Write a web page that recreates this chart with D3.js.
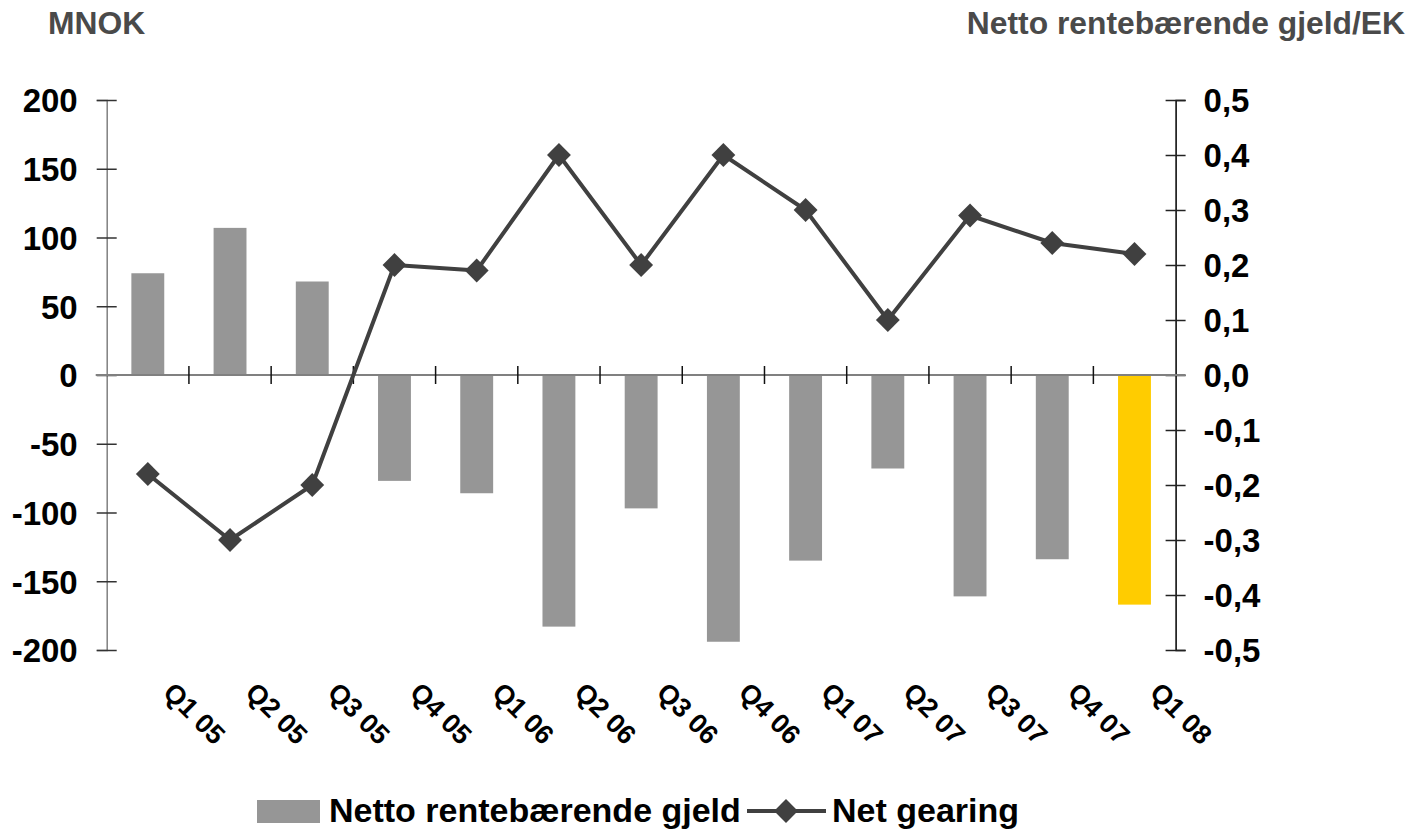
<!DOCTYPE html>
<html>
<head>
<meta charset="utf-8">
<script src="https://cdn.jsdelivr.net/npm/d3@7"></script>
<style>
  html, body { margin: 0; padding: 0; background: #fff; }
  svg { display: block; font-family: "Liberation Sans", Arial, sans-serif; }
</style>
</head>
<body>
<svg id="chart" width="1418" height="831"></svg>
<script>
// ---- data ----
const categories = ["Q1 05","Q2 05","Q3 05","Q4 05","Q1 06","Q2 06","Q3 06","Q4 06","Q1 07","Q2 07","Q3 07","Q4 07","Q1 08"];
const debtValues = [74, 107, 68, -77, -86, -183, -97, -194, -135, -68, -161, -134, -167];
const gearingValues = [-0.18, -0.30, -0.20, 0.20, 0.19, 0.40, 0.20, 0.40, 0.30, 0.10, 0.29, 0.24, 0.22];
const leftTicks = [200, 150, 100, 50, 0, -50, -100, -150, -200];
const rightTicks = [0.5, 0.4, 0.3, 0.2, 0.1, 0.0, -0.1, -0.2, -0.3, -0.4, -0.5];
const rightTickLabels = ["0,5","0,4","0,3","0,2","0,1","0,0","-0,1","-0,2","-0,3","-0,4","-0,5"];
const leftTitle = "MNOK";
const rightTitle = "Netto rentebærende gjeld/EK";
const seriesNames = ["Netto rentebærende gjeld", "Net gearing"];

// ---- styles ----
const barColor = "#969696";
const highlightColor = "#FFCC00";
const lineColor = "#404040";

const svg = d3.select("#chart");
const x0 = 106.7, x1 = 1175.6, yTop = 100, yBot = 650;

const x = d3.scaleBand().domain(categories).range([x0, x1]).paddingInner(0.6).paddingOuter(0.3);
const xPos = d3.scaleBand().domain(categories).range([x0, x1]).padding(0);
const yL = d3.scaleLinear().domain([-200, 200]).range([yBot, yTop]);
const yR = d3.scaleLinear().domain([-0.5, 0.5]).range([yBot, yTop]);

// bars
svg.append("g").selectAll("rect").data(debtValues).join("rect")
  .attr("x", (d, i) => x(categories[i]))
  .attr("width", x.bandwidth())
  .attr("y", d => yL(Math.max(0, d)))
  .attr("height", d => Math.abs(yL(d) - yL(0)))
  .attr("fill", (d, i) => i === categories.length - 1 ? highlightColor : barColor);

// left axis
const gL = svg.append("g").attr("transform", `translate(${x0},0)`)
  .call(d3.axisLeft(yL).tickValues(leftTicks).tickSize(10).tickFormat(d => d3.format("d")(d).replace("−", "-")));
gL.select(".domain").attr("stroke", "#808080").attr("stroke-width", 1.5);
gL.selectAll(".tick line").attr("x1", 10).attr("x2", -10).attr("stroke", "#333").attr("stroke-width", 1.5);
gL.selectAll(".tick text").attr("x", -29).attr("dy", "0.36em")
  .attr("font-size", 33).attr("font-weight", "bold").attr("fill", "#000")
  .attr("font-family", "'Liberation Sans', Arial, sans-serif");

// right axis
const gR = svg.append("g").attr("transform", `translate(${x1},0)`)
  .call(d3.axisRight(yR).tickValues(rightTicks).tickSize(10).tickFormat((d, i) => rightTickLabels[i]));
gR.select(".domain").attr("stroke", "#000").attr("stroke-width", 1.5);
gR.selectAll(".tick line").attr("x1", -10).attr("x2", 10).attr("stroke", "#222").attr("stroke-width", 1.5);
gR.selectAll(".tick text").attr("x", 28).attr("dy", "0.36em")
  .attr("font-size", 33).attr("font-weight", "bold").attr("fill", "#000")
  .attr("font-family", "'Liberation Sans', Arial, sans-serif");

// zero / category axis
const z = yL(0);
svg.append("line").attr("x1", x0 - 11).attr("x2", x1 + 10).attr("y1", z).attr("y2", z)
  .attr("stroke", "#808080").attr("stroke-width", 2);
const catBounds = d3.range(1, categories.length).map(i => xPos(categories[i]));
svg.append("g").selectAll("line").data(catBounds).join("line")
  .attr("x1", d => d).attr("x2", d => d).attr("y1", z - 9).attr("y2", z + 9)
  .attr("stroke", "#111").attr("stroke-width", 1.5);

// category labels
svg.append("g").selectAll("text").data(categories).join("text")
  .attr("transform", d => `translate(${xPos(d) + xPos.bandwidth() / 2 + 14},694) rotate(45)`)
  .attr("font-size", 27).attr("font-weight", "bold").attr("fill", "#000")
  .text(d => d);

// line
const lineGen = d3.line()
  .x((d, i) => xPos(categories[i]) + xPos.bandwidth() / 2)
  .y(d => yR(d));
svg.append("path").datum(gearingValues).attr("d", lineGen)
  .attr("fill", "none").attr("stroke", lineColor).attr("stroke-width", 4).attr("stroke-linejoin", "round");
svg.append("g").selectAll("path").data(gearingValues).join("path")
  .attr("d", d3.symbol().type(d3.symbolSquare).size(285))
  .attr("transform", (d, i) => `translate(${xPos(categories[i]) + xPos.bandwidth() / 2},${yR(d)}) rotate(45)`)
  .attr("fill", lineColor);

// titles
svg.append("text").attr("x", 48).attr("y", 34).attr("font-size", 31.8).attr("font-weight", "bold")
  .attr("fill", "#4a4a4a").text(leftTitle);
svg.append("text").attr("x", 1405).attr("y", 34).attr("text-anchor", "end").attr("font-size", 31.8).attr("font-weight", "bold")
  .attr("fill", "#4a4a4a").text(rightTitle);

// legend
const lg = svg.append("g");
lg.append("rect").attr("x", 257).attr("y", 800).attr("width", 63).attr("height", 23).attr("fill", barColor);
lg.append("text").attr("x", 329).attr("y", 822).attr("font-size", 34).attr("font-weight", "bold").attr("fill", "#000")
  .text(seriesNames[0]);
lg.append("line").attr("x1", 747).attr("x2", 826).attr("y1", 811).attr("y2", 811)
  .attr("stroke", lineColor).attr("stroke-width", 4);
lg.append("path").attr("d", d3.symbol().type(d3.symbolSquare).size(285))
  .attr("transform", "translate(786,811) rotate(45)").attr("fill", lineColor);
lg.append("text").attr("x", 832).attr("y", 822).attr("font-size", 34).attr("font-weight", "bold").attr("fill", "#000")
  .text(seriesNames[1]);
</script>
</body>
</html>
